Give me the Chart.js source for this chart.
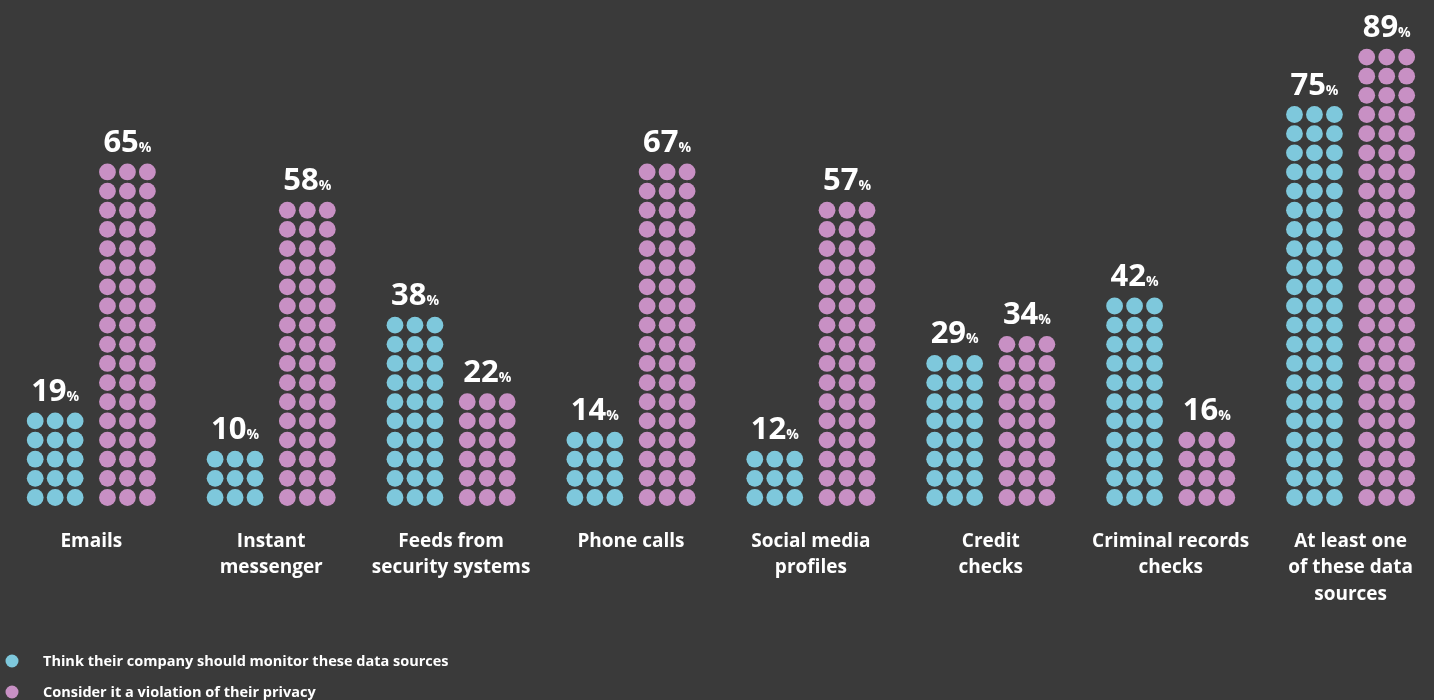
<!DOCTYPE html>
<html>
<head>
<meta charset="utf-8">
<script src="https://cdn.jsdelivr.net/npm/chart.js@4"></script>
<style>
  html, body { margin: 0; padding: 0; background: #3a3a3a; }
  #wrap { width: 1434px; height: 700px; position: relative; }
</style>
</head>
<body>
<div id="wrap"><canvas id="c"></canvas></div>
<script>
// ---- data ----
const categories = [
  ["Emails"],
  ["Instant", "messenger"],
  ["Feeds from", "security systems"],
  ["Phone calls"],
  ["Social media", "profiles"],
  ["Credit", "checks"],
  ["Criminal records", "checks"],
  ["At least one", "of these data", "sources"]
];
const monitorValues = [19, 10, 38, 14, 12, 29, 42, 75];
const privacyValues = [65, 58, 22, 67, 57, 34, 16, 89];
// number of dot rows (3 dots per row) drawn for each column
const monitorDotRows = [5, 3, 10, 4, 3, 8, 11, 21];
const privacyDotRows = [18, 16, 6, 18, 16, 9, 4, 24];
const seriesNames = [
  "Think their company should monitor these data sources",
  "Consider it a violation of their privacy"
];

// ---- styling ----
const BLUE = "#7ec8dc";
const PINK = "#c890c4";
const FONT = "'Open Sans', 'Noto Sans', sans-serif";
const GROUP_OFFSET = 0.2008;   // column centre offset from category centre (x units)
const DOT_STEP = 0.111;        // horizontal dot step (x units)

function dotsFor(rowsArr, sign) {
  const pts = [];
  rowsArr.forEach((rows, i) => {
    for (let r = 0; r < rows; r++) {
      for (let c = -1; c <= 1; c++) {
        pts.push({ x: i + sign * GROUP_OFFSET + c * DOT_STEP, y: r });
      }
    }
  });
  return pts;
}

const valueLabels = {
  id: 'valueLabels',
  afterDatasetsDraw(chart) {
    const ctx = chart.ctx;
    const xs = chart.scales.x, ys = chart.scales.y;
    ctx.save();
    ctx.fillStyle = '#ffffff';
    ctx.textBaseline = 'alphabetic';
    const series = [[monitorValues, monitorDotRows, -1], [privacyValues, privacyDotRows, 1]];
    series.forEach(([vals, rows, sign]) => {
      vals.forEach((v, i) => {
        const cx = xs.getPixelForValue(i + sign * GROUP_OFFSET);
        const topY = ys.getPixelForValue(rows[i] - 1);
        const big = 'bold 31px ' + FONT;
        const small = 'bold 14px ' + FONT;
        ctx.font = big;
        const w1 = ctx.measureText(String(v)).width;
        ctx.font = small;
        const w2 = ctx.measureText('%').width;
        const start = cx - (w1 + w2) / 2;
        const base = topY - 20;
        ctx.font = big;
        ctx.textAlign = 'left';
        ctx.fillText(String(v), start, base);
        ctx.font = small;
        ctx.fillText('%', start + w1, base);
      });
    });
    ctx.restore();
  }
};

const customLegend = {
  id: 'customLegend',
  afterDraw(chart) {
    const ctx = chart.ctx;
    ctx.save();
    const items = [[BLUE, seriesNames[0], 661], [PINK, seriesNames[1], 692]];
    items.forEach(([col, txt, y]) => {
      ctx.fillStyle = col;
      ctx.beginPath();
      ctx.arc(12, y, 6.5, 0, Math.PI * 2);
      ctx.fill();
      ctx.fillStyle = '#ffffff';
      ctx.font = 'bold 14.5px ' + FONT;
      ctx.textAlign = 'left';
      ctx.textBaseline = 'middle';
      ctx.fillText(txt, 43, y + 1);
    });
    ctx.restore();
  }
};

new Chart(document.getElementById('c'), {
  type: 'scatter',
  data: {
    datasets: [
      { label: seriesNames[0], data: dotsFor(monitorDotRows, -1), backgroundColor: BLUE,
        pointRadius: 8.4, pointHoverRadius: 8.4, borderWidth: 0 },
      { label: seriesNames[1], data: dotsFor(privacyDotRows, 1), backgroundColor: PINK,
        pointRadius: 8.4, pointHoverRadius: 8.4, borderWidth: 0 }
    ]
  },
  options: {
    responsive: true,
    maintainAspectRatio: false,
    animation: false,
    layout: { padding: 0, autoPadding: false },
    plugins: { legend: { display: false }, tooltip: { enabled: false } },
    scales: {
      x: {
        type: 'linear',
        min: -0.5075,
        max: 7.446,
        grid: { display: false, drawTicks: false },
        border: { display: false },
        afterBuildTicks(scale) {
          scale.ticks = categories.map((_, i) => ({ value: i }));
        },
        afterFit(scale) { scale.height = 700 - 507.1; },
        ticks: {
          autoSkip: false,
          maxRotation: 0,
          padding: 21,
          color: '#ffffff',
          font: { family: FONT, weight: 'bold', size: 19, lineHeight: 1.4 },
          callback(v) { return categories[v] || ''; }
        }
      },
      y: {
        display: false,
        min: -0.5,
        max: 25.98
      }
    }
  },
  plugins: [valueLabels, customLegend]
});
</script>
</body>
</html>
